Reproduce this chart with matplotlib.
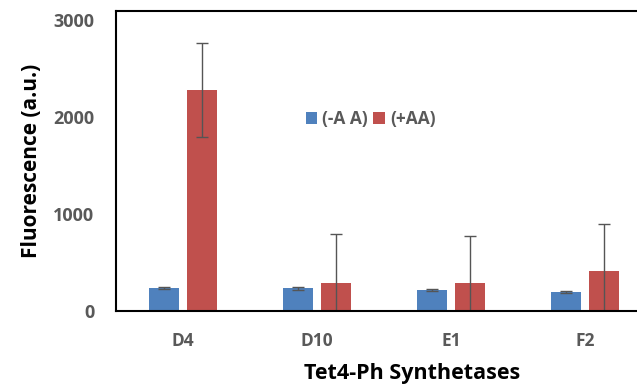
import matplotlib
matplotlib.use('Agg')
import matplotlib.pyplot as plt
import numpy as np

plt.rcParams['font.family'] = ['Open Sans', 'DejaVu Sans']

# data
categories = ['D4', 'D10', 'E1', 'F2']
minus_aa = [234, 232, 216, 199]
minus_aa_err = [12, 12, 12, 10]
plus_aa = [2278, 285, 285, 412]
plus_aa_err = [485, 505, 488, 485]

blue = '#4F81BD'
red = '#C0504D'
err_kw = dict(ecolor='#555555', elinewidth=1.0, capsize=4, capthick=1.0)

fig = plt.figure(figsize=(6.37, 3.88), dpi=100)
# axes runs slightly past the right edge of the figure, like the reference crop
ax = fig.add_axes([0.1821, 0.1985, 0.8415, 0.7732])

x = np.arange(len(categories))
w = 0.224
off = 0.144
ax.bar(x - off, minus_aa, w, yerr=minus_aa_err, color=blue, label='(-A A)',
       error_kw=err_kw)
ax.bar(x + off, plus_aa, w, yerr=plus_aa_err, color=red, label='(+AA)',
       error_kw=err_kw)

ax.set_xlim(-0.5, 3.5)
ax.set_ylim(0, 3095)
ax.set_yticks([0, 1000, 2000, 3000])
ax.set_xticks(x)
ax.set_xticklabels(categories)

for s in ax.spines.values():
    s.set_linewidth(1.5)
    s.set_color('black')

ax.tick_params(axis='both', length=0, labelcolor='#595959')
ax.tick_params(axis='x', pad=15, labelsize=12.5)
ax.tick_params(axis='y', pad=15.5, labelsize=13)
for lab in ax.get_xticklabels() + ax.get_yticklabels():
    lab.set_fontweight('bold')

ax.set_xlabel('Tet4-Ph Synthetases', fontsize=15.5, fontweight='bold')
ax.xaxis.set_label_coords(0.552, -0.175)
ax.set_ylabel('Fluorescence (a.u.)', fontsize=15, fontweight='bold', labelpad=8)

leg = ax.legend(loc='center left', bbox_to_anchor=(0.325, 0.64), ncol=2,
                frameon=False, handlelength=0.65, handleheight=0.65,
                handletextpad=0.3, columnspacing=0.3,
                prop={'weight': 'bold', 'size': 12.5})
for t in leg.get_texts():
    t.set_color('#595959')

fig.savefig('out.png', dpi=100)
